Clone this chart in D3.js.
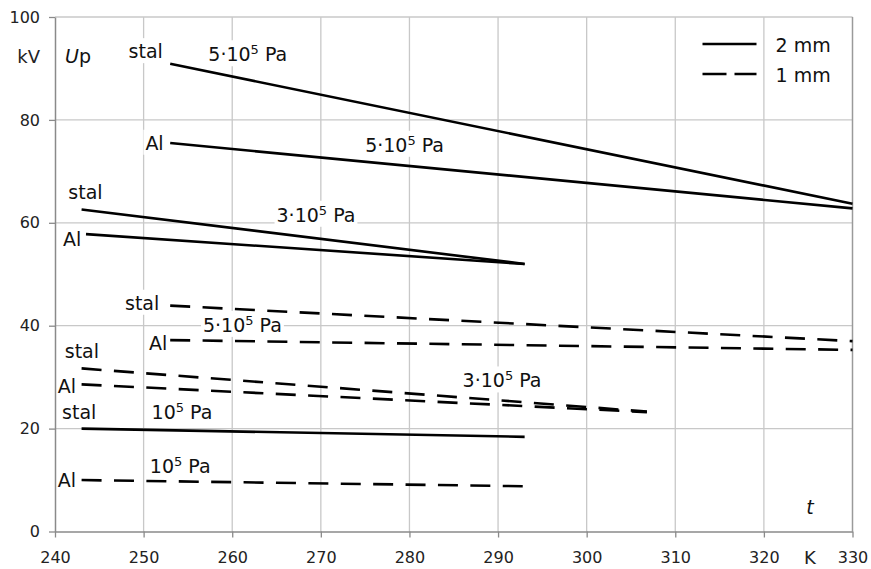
<!DOCTYPE html>
<html>
<head>
<meta charset="utf-8">
<script src="https://cdn.jsdelivr.net/npm/d3@7"></script>
<style>
  body { margin: 0; background: #fff; }
  svg { display: block; font-family: 'DejaVu Sans', sans-serif; }
</style>
</head>
<body>
<div id="chart"></div>
<script>
// x ticks (temperature, K) and y ticks (Up, kV)
const tTicks = [240, 250, 260, 270, 280, 290, 300, 310, 320, 330];
const upTicks = [0, 20, 40, 60, 80, 100];

// 2 mm gap (solid lines): start / end of each measured line
const lines2mm = [
    { metal: 'stal', p: '5e5', t: [253, 330], up: [90.9, 63.7] },
    { metal: 'Al',   p: '5e5', t: [253, 330], up: [75.5, 62.8] },
    { metal: 'stal', p: '3e5', t: [243, 293], up: [62.6, 52.0] },
    { metal: 'Al',   p: '3e5', t: [243.5, 293], up: [57.8, 52.0] },
    { metal: 'stal', p: '1e5', t: [243, 293], up: [20.0, 18.4] }
];

// 1 mm gap (dashed lines)
const lines1mm = [
    { metal: 'stal', p: '5e5', t: [253, 330], up: [43.9, 37.0] },
    { metal: 'Al',   p: '5e5', t: [253, 330], up: [37.2, 35.3] },
    { metal: 'stal', p: '3e5', t: [243, 306.8], up: [31.7, 23.3] },
    { metal: 'Al',   p: '3e5', t: [243, 306.8], up: [28.6, 23.2] },
    { metal: 'Al',   p: '1e5', t: [243, 292.8], up: [10.0, 8.8] }
];

// annotation anchors (left edge / baseline, in data units)
const metalLabels = [
    { text: 'stal', t: 248.3, up: 92.0 },
    { text: 'Al',   t: 250.2, up: 74.2 },
    { text: 'stal', t: 241.5, up: 64.6 },
    { text: 'Al',   t: 240.9, up: 55.4 },
    { text: 'stal', t: 247.9, up: 43.1 },
    { text: 'Al',   t: 250.6, up: 35.3 },
    { text: 'stal', t: 241.1, up: 33.8 },
    { text: 'Al',   t: 240.3, up: 27.0 },
    { text: 'stal', t: 240.8, up: 21.8 },
    { text: 'Al',   t: 240.3, up: 8.6 }
];

const pressureLabels = [
    { text: '5\u00B710^5 Pa', t: 257.3, up: 91.4 },
    { text: '5\u00B710^5 Pa', t: 275.0, up: 73.8 },
    { text: '3\u00B710^5 Pa', t: 265.0, up: 60.2 },
    { text: '10^5 Pa',        t: 250.9, up: 21.8 },
    { text: '5\u00B710^5 Pa', t: 256.7, up: 38.8 },
    { text: '3\u00B710^5 Pa', t: 286.0, up: 28.0 },
    { text: '10^5 Pa',        t: 250.7, up: 11.4 }
];

const legendItems = [
    { label: '2 mm', dash: null },
    { label: '1 mm', dash: '24,8' }
];

function createChart() {
    const W = 871, H = 569;
    const margin = { top: 17, right: 18.5, bottom: 37.5, left: 55 };
    const width = W - margin.left - margin.right;
    const height = H - margin.top - margin.bottom;

    const x = d3.scaleLinear().domain([240, 330]).range([0, width]);
    const y = d3.scaleLinear().domain([0, 100]).range([height, 0]);

    const svg = d3.select('#chart')
        .append('svg')
        .attr('width', W)
        .attr('height', H)
        .append('g')
        .attr('transform', `translate(${margin.left},${margin.top})`);

    // grid
    const grid = svg.append('g').attr('stroke', '#c8c8c8').attr('stroke-width', 1.3);
    grid.selectAll('.vg')
        .data(tTicks.slice(1, -1))
        .enter().append('line')
        .attr('x1', d => x(d)).attr('x2', d => x(d))
        .attr('y1', 0).attr('y2', height);
    grid.selectAll('.hg')
        .data(upTicks.slice(1))
        .enter().append('line')
        .attr('x1', 0).attr('x2', width)
        .attr('y1', d => y(d)).attr('y2', d => y(d));

    // right border
    svg.append('line')
        .attr('x1', width).attr('x2', width)
        .attr('y1', 0).attr('y2', height)
        .attr('stroke', '#9a9a9a').attr('stroke-width', 1.5);

    const bgLayer = svg.append('g');
    const lineLayer = svg.append('g');
    const textLayer = svg.append('g');

    // text with white box behind it (hides the grid)
    function addLabel(lbl) {
        const t = textLayer.append('text')
            .attr('x', x(lbl.t))
            .attr('y', y(lbl.up))
            .style('font-size', '19px')
            .attr('fill', '#111');
        const parts = lbl.text.split('^');
        if (parts.length === 1) {
            t.text(lbl.text);
        } else {
            t.append('tspan').text(parts[0]);
            t.append('tspan').text(parts[1][0])
                .style('font-size', '13px')
                .attr('dy', -7);
            t.append('tspan').text(parts[1].slice(1))
                .attr('dy', 7);
        }
        const bb = t.node().getBBox();
        bgLayer.append('rect')
            .attr('x', bb.x - 2).attr('y', bb.y - 2)
            .attr('width', bb.width + 4).attr('height', bb.height + 3)
            .attr('fill', '#fff');
    }
    metalLabels.forEach(addLabel);
    pressureLabels.forEach(addLabel);

    // lines
    const line = d3.line().x(d => x(d[0])).y(d => y(d[1]));
    const toPts = d => d.t.map((tv, i) => [tv, d.up[i]]);

    lineLayer.selectAll('.solid')
        .data(lines2mm)
        .enter().append('path')
        .attr('d', d => line(toPts(d)))
        .attr('fill', 'none')
        .attr('stroke', '#000')
        .attr('stroke-width', 2.6);

    lineLayer.selectAll('.dashed')
        .data(lines1mm)
        .enter().append('path')
        .attr('d', d => line(toPts(d)))
        .attr('fill', 'none')
        .attr('stroke', '#000')
        .attr('stroke-width', 2.6)
        .attr('stroke-dasharray', '20,12.4');

    // axes
    const xAxis = svg.append('g')
        .attr('transform', `translate(0,${height})`)
        .call(d3.axisBottom(x).tickValues(tTicks).tickSize(6).tickPadding(14).tickSizeOuter(0));
    const yAxis = svg.append('g')
        .call(d3.axisLeft(y).tickValues(upTicks).tickSize(6).tickPadding(9).tickSizeOuter(0));
    [xAxis, yAxis].forEach(a => {
        a.select('.domain').attr('stroke', '#8a8a8a').attr('stroke-width', 1.5);
        a.selectAll('.tick line').attr('stroke', '#8a8a8a').attr('stroke-width', 1.3);
        a.selectAll('.tick text')
            .attr('fill', '#222')
            .style('font-family', "'DejaVu Sans', sans-serif")
            .style('font-size', '16px');
    });

    // axis titles
    svg.append('text')
        .attr('x', -15).attr('y', 46)
        .attr('text-anchor', 'end')
        .style('font-size', '18px')
        .attr('fill', '#222')
        .text('kV');
    const up = svg.append('text')
        .attr('x', 10).attr('y', 46)
        .style('font-size', '19px')
        .attr('fill', '#111');
    up.append('tspan').style('font-style', 'italic').text('U');
    up.append('tspan').text('p');

    svg.append('text')
        .attr('x', x(325.2)).attr('y', height - 18)
        .attr('text-anchor', 'middle')
        .style('font-size', '19px')
        .style('font-style', 'italic')
        .attr('fill', '#111')
        .text('t');
    svg.append('text')
        .attr('x', x(325.2)).attr('y', height + 32.5)
        .attr('text-anchor', 'middle')
        .style('font-size', '18px')
        .attr('fill', '#222')
        .text('K');

    // legend
    const legend = svg.append('g')
        .attr('transform', `translate(${width - 150}, 27)`);
    legendItems.forEach((item, i) => {
        const row = legend.append('g')
            .attr('transform', `translate(0, ${i * 30})`);
        row.append('line')
            .attr('x1', 0).attr('x2', 54)
            .attr('y1', 0).attr('y2', 0)
            .attr('stroke', '#000')
            .attr('stroke-width', 2.6)
            .attr('stroke-dasharray', item.dash);
        row.append('text')
            .attr('x', 73)
            .attr('y', 7.5)
            .style('font-size', '19px')
            .attr('fill', '#111')
            .text(item.label);
    });
}

createChart();
</script>
</body>
</html>
